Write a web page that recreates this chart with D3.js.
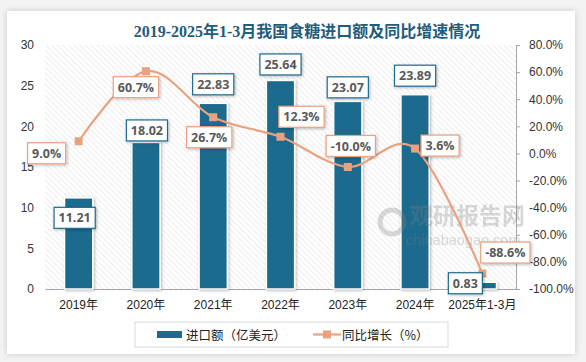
<!DOCTYPE html>
<html>
<head>
<meta charset="utf-8">
<script src="https://cdn.jsdelivr.net/npm/d3@7"></script>
<style>
  body { margin: 0; background: #f3f3f3; }
  svg { display: block; }
</style>
</head>
<body>
<svg width="586" height="362"></svg>
<script>
// data
var categories = ['2019年', '2020年', '2021年', '2022年', '2023年', '2024年', '2025年1-3月'];
var importValue = [11.21, 18.02, 22.83, 25.64, 23.07, 23.89, 0.83];
var growthRate = [9.0, 60.7, 26.7, 12.3, -10.0, 3.6, -88.6];
var leftTicks = [0, 5, 10, 15, 20, 25, 30];
var rightTicks = [-100, -80, -60, -40, -20, 0, 20, 40, 60, 80];

// label placement (offsets from the mark), kept apart from the values
var barLabelOffset = [[-4, 20], [1, -12], [0, -19], [0, -16], [0, -14], [0, -19], [-17, 1]];
var lineLabelOffset = [[-32, 12], [-10, 16], [-4, 20], [21, -20], [3, -21], [25, -3], [23, -21]];

var blue = '#1d6a8d';
var salmon = '#eaa17f';

var svg = d3.select('svg');
var defs = svg.append('defs');

var shadow = defs.append('filter').attr('id', 'sh')
    .attr('x', '-30%').attr('y', '-30%').attr('width', '160%').attr('height', '160%');
shadow.append('feDropShadow').attr('dx', 1).attr('dy', 1)
    .attr('stdDeviation', 1.5).attr('flood-color', '#000').attr('flood-opacity', 0.28);

var cardShadow = defs.append('filter').attr('id', 'cardsh')
    .attr('x', '-5%').attr('y', '-5%').attr('width', '110%').attr('height', '110%');
cardShadow.append('feDropShadow').attr('dx', 0).attr('dy', 0)
    .attr('stdDeviation', 3).attr('flood-color', '#000').attr('flood-opacity', 0.18);

var hatch = defs.append('pattern').attr('id', 'hatch')
    .attr('patternUnits', 'userSpaceOnUse').attr('width', 4).attr('height', 4)
    .attr('patternTransform', 'rotate(-45)');
hatch.append('rect').attr('width', 4).attr('height', 4).attr('fill', '#fff');
hatch.append('line').attr('x1', 0).attr('y1', 0).attr('x2', 0).attr('y2', 4)
    .attr('stroke', '#dcdcdc').attr('stroke-width', 1);

// card
svg.append('rect').attr('x', 7).attr('y', 11).attr('width', 568).attr('height', 343)
    .attr('fill', '#fff').attr('filter', 'url(#cardsh)');

var pLeft = 45, pRight = 516, pTop = 45, pBottom = 289;

var x = d3.scaleBand().domain(categories).range([pLeft, pRight])
    .paddingInner(0.58).paddingOuter(0.29);
var y = d3.scaleLinear().domain([0, 30]).range([pBottom, pTop]);
var y2 = d3.scaleLinear().domain([-100, 80]).range([pBottom, pTop]);

// title
svg.append('text').attr('x', 307).attr('y', 37).attr('text-anchor', 'middle')
    .attr('font-family', '"Liberation Serif", "Noto Sans CJK SC", serif')
    .attr('font-weight', 'bold').attr('font-size', 16).attr('fill', '#1f5d7c')
    .text('2019-2025年1-3月我国食糖进口额及同比增速情况');

// plot background
svg.append('rect').attr('x', pLeft).attr('y', pTop).attr('width', pRight - pLeft).attr('height', pBottom - pTop)
    .attr('fill', 'url(#hatch)');

var axisFont = '"Liberation Sans", "Noto Sans CJK SC", sans-serif';

// left axis (labels only)
var gl = svg.append('g').attr('transform', 'translate(' + pLeft + ',0)')
    .call(d3.axisLeft(y).tickValues(leftTicks).tickSize(0).tickPadding(11));
gl.select('.domain').remove();
gl.selectAll('text').attr('font-family', axisFont).attr('font-size', 12).attr('fill', '#333');

// right axis
var gr = svg.append('g').attr('transform', 'translate(' + pRight + ',0)')
    .call(d3.axisRight(y2).tickValues(rightTicks).tickSizeInner(4).tickSizeOuter(0).tickPadding(9)
        .tickFormat(function (d) { return d.toFixed(1) + '%'; }));
gr.select('.domain').attr('stroke', '#a6a6a6');
gr.selectAll('line').attr('stroke', '#a6a6a6');
gr.selectAll('text').attr('font-family', axisFont).attr('font-size', 12).attr('fill', '#333');

// bottom axis
var gb = svg.append('g').attr('transform', 'translate(0,' + pBottom + ')')
    .call(d3.axisBottom(x).tickSize(0).tickPadding(11));
gb.select('.domain').attr('stroke', '#a6a6a6').attr('stroke-width', 1.2);
gb.selectAll('text').attr('font-family', axisFont).attr('font-size', 12).attr('fill', '#222');

// bars
svg.append('g').selectAll('rect').data(importValue).enter().append('rect')
    .attr('x', function (d, i) { return x(categories[i]); })
    .attr('y', function (d) { return y(d); })
    .attr('width', x.bandwidth())
    .attr('height', function (d) { return pBottom - y(d); })
    .attr('fill', blue).attr('stroke', '#fff').attr('stroke-width', 1.5)
    .attr('filter', 'url(#sh)');

// watermark (drawn over the bars)
var wm = svg.append('g').attr('opacity', 0.3).attr('fill', '#808080');
wm.append('text').attr('x', 410).attr('y', 224)
    .attr('font-family', '"Noto Sans CJK SC", sans-serif').attr('font-weight', 'bold')
    .attr('font-size', 23).text('观研报告网');
wm.append('text').attr('x', 406).attr('y', 245)
    .attr('font-family', '"Liberation Sans", sans-serif')
    .attr('font-size', 14.5).text('chinabaogao.com');
wm.append('circle').attr('cx', 392).attr('cy', 222).attr('r', 12)
    .attr('fill', 'none').attr('stroke', '#808080').attr('stroke-width', 5);

// growth line
var cx = function (i) { return x(categories[i]) + x.bandwidth() / 2; };
var line = d3.line().x(function (d, i) { return cx(i); }).y(function (d) { return y2(d); })
    .curve(d3.curveCardinal.tension(0));
svg.append('path').datum(growthRate).attr('d', line)
    .attr('fill', 'none').attr('stroke', salmon).attr('stroke-width', 2.2);
svg.append('g').selectAll('rect').data(growthRate).enter().append('rect')
    .attr('x', function (d, i) { return cx(i) - 4; })
    .attr('y', function (d) { return y2(d) - 4; })
    .attr('width', 8).attr('height', 8).attr('fill', salmon);

var labelFont = '"Open Sans", "Liberation Sans", sans-serif';

function addLabel(g, px, py, txt, border) {
    var t = g.append('text').attr('x', px).attr('y', py).attr('dy', '0.36em')
        .attr('text-anchor', 'middle').attr('font-family', labelFont)
        .attr('font-weight', 'bold').attr('font-size', 12.5).attr('fill', '#595959')
        .text(txt);
    var w = t.node().getComputedTextLength() + 9;
    g.insert('rect', function () { return t.node(); })
        .attr('x', px - w / 2).attr('y', py - 10.5).attr('width', w).attr('height', 21)
        .attr('fill', '#fff').attr('stroke', border).attr('stroke-width', 1.2)
        .attr('filter', 'url(#sh)');
}

var labels = svg.append('g');
importValue.forEach(function (d, i) {
    addLabel(labels, cx(i) + barLabelOffset[i][0], y(d) + barLabelOffset[i][1], d.toFixed(2), blue);
});
growthRate.forEach(function (d, i) {
    addLabel(labels, cx(i) + lineLabelOffset[i][0], y2(d) + lineLabelOffset[i][1], d.toFixed(1) + '%', salmon);
});

// legend
var lg = svg.append('g');
lg.append('rect').attr('x', 135).attr('y', 322).attr('width', 313).attr('height', 25)
    .attr('fill', '#fff').attr('stroke', '#d9d9d9');
lg.append('rect').attr('x', 157).attr('y', 331).attr('width', 25).attr('height', 7).attr('fill', blue);
lg.append('text').attr('x', 186).attr('y', 339.5).attr('font-family', '"Noto Sans CJK SC", sans-serif')
    .attr('font-size', 12.5).attr('fill', '#222').text('进口额（亿美元）');
lg.append('line').attr('x1', 313).attr('x2', 341).attr('y1', 334.5).attr('y2', 334.5)
    .attr('stroke', salmon).attr('stroke-width', 2.2);
lg.append('rect').attr('x', 323).attr('y', 330.5).attr('width', 8).attr('height', 8).attr('fill', salmon);
lg.append('text').attr('x', 342).attr('y', 339.5).attr('font-family', '"Noto Sans CJK SC", sans-serif')
    .attr('font-size', 12.5).attr('fill', '#222').text('同比增长（%）');
</script>
</body>
</html>
